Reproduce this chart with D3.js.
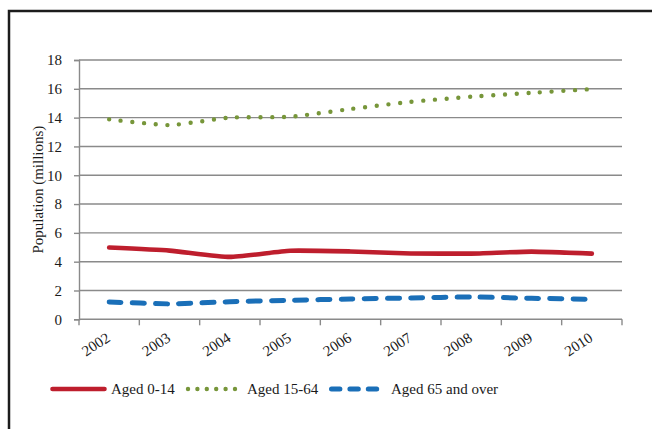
<!DOCTYPE html>
<html>
<head>
<meta charset="utf-8">
<script src="https://cdn.jsdelivr.net/npm/d3@7"></script>
<style>
  html, body { margin: 0; padding: 0; background: #fff; }
  svg { display: block; }
</style>
</head>
<body>
<svg id="chart" width="652" height="429"></svg>
<script>
// Population by age group, 2002-2010 (millions)
const years = ["2002", "2003", "2004", "2005", "2006", "2007", "2008", "2009", "2010"];
const aged0to14 = [4.98, 4.77, 4.33, 4.76, 4.71, 4.57, 4.56, 4.70, 4.56];
const aged15to64 = [13.88, 13.48, 14.0, 14.06, 14.6, 15.1, 15.45, 15.72, 15.98];
const aged65plus = [1.2, 1.07, 1.22, 1.32, 1.41, 1.48, 1.55, 1.46, 1.39];
const yTicks = [0, 2, 4, 6, 8, 10, 12, 14, 16, 18];
const seriesNames = ["Aged 0-14", "Aged 15-64", "Aged 65 and over"];

const FONT = "'Liberation Serif', Tinos, 'Times New Roman', 'DejaVu Serif', serif";

const svg = d3.select("#chart");
const margin = { left: 79, right: 30, top: 60, bottom: 109.7 };
const W = 652, H = 429;
const plotW = W - margin.left - margin.right;
const plotH = H - margin.top - margin.bottom;

// outer frame (left and top edges fall inside the canvas)
svg.append("path")
  .attr("d", `M9,${H + 5} L9,11 L${W + 5},11`)
  .attr("fill", "none")
  .attr("stroke", "#1c1c1c")
  .attr("stroke-width", 2.5);

const x = d3.scaleBand().domain(years).range([0, plotW]).padding(0);
const y = d3.scaleLinear().domain([0, 18]).range([plotH, 0]);

const g = svg.append("g").attr("transform", `translate(${margin.left},${margin.top})`);

const gridColor = "#8a8a8a";

// horizontal gridlines
g.append("g")
  .selectAll("line")
  .data(yTicks.filter(d => d > 0))
  .join("line")
  .attr("x1", 0).attr("x2", plotW)
  .attr("y1", d => y(d)).attr("y2", d => y(d))
  .attr("stroke", gridColor).attr("stroke-width", 1.4);

// y axis
const yAxis = g.append("g")
  .call(d3.axisLeft(y).tickValues(yTicks).tickSize(5).tickPadding(12).tickFormat(d3.format("d")));
yAxis.attr("font-family", FONT).attr("font-size", 15);
yAxis.select(".domain").attr("stroke", gridColor).attr("stroke-width", 1.4);
yAxis.selectAll(".tick line").attr("stroke", gridColor).attr("stroke-width", 1.4);
yAxis.selectAll(".tick text").attr("fill", "#1a1a1a");

// x axis: category tick marks on band boundaries
const xAxisG = g.append("g")
  .attr("transform", `translate(0,${plotH})`)
  .attr("font-family", FONT).attr("font-size", 15);
xAxisG.append("line")
  .attr("x1", 0).attr("x2", plotW)
  .attr("stroke", gridColor).attr("stroke-width", 1.4);
const bounds = years.map(d => x(d)).concat([plotW]);
xAxisG.selectAll("line.tk")
  .data(bounds)
  .join("line")
  .attr("class", "tk")
  .attr("x1", d => d).attr("x2", d => d)
  .attr("y1", 0).attr("y2", 6)
  .attr("stroke", gridColor).attr("stroke-width", 1.4);
xAxisG.selectAll("text")
  .data(years)
  .join("text")
  .attr("transform", d => `translate(${x(d) + x.bandwidth() / 2 + 2},21) rotate(-33)`)
  .attr("text-anchor", "end")
  .attr("fill", "#1a1a1a")
  .text(d => d);

// y axis title
svg.append("text")
  .attr("transform", `translate(43,${margin.top + plotH / 2}) rotate(-90)`)
  .attr("text-anchor", "middle")
  .attr("font-family", FONT).attr("font-size", 15)
  .attr("fill", "#1a1a1a")
  .text("Population (millions)");

// series lines
const cx = (d, i) => x(years[i]) + x.bandwidth() / 2;
const line = d3.line()
  .x((d, i) => cx(d, i))
  .y(d => y(d))
  .curve(d3.curveCardinal.tension(0.5));

const series = [
  { name: seriesNames[0], values: aged0to14, color: "#be1e2d", width: 4.6, dash: null, legendDash: null },
  { name: seriesNames[1], values: aged15to64, color: "#77963a", width: 4.4, dash: "0,11.7", legendDash: "0,9.4" },
  { name: seriesNames[2], values: aged65plus, color: "#1a6fb8", width: 5, dash: "12,11.2", legendDash: "8.4,10" }
];

g.selectAll("path.series")
  .data(series)
  .join("path")
  .attr("class", "series")
  .attr("d", d => line(d.values))
  .attr("fill", "none")
  .attr("stroke", d => d.color)
  .attr("stroke-width", d => d.width)
  .attr("stroke-linecap", "round")
  .attr("stroke-dasharray", d => d.dash);

// legend
const legendY = 389;
const legendItems = [
  { x0: 52.5, x1: 104.5, tx: 111 },
  { x0: 188, x1: 236, tx: 247 },
  { x0: 331.5, x1: 377, tx: 391 }
];
const lg = svg.append("g").attr("font-family", FONT).attr("font-size", 15);
series.forEach((s, i) => {
  const p = legendItems[i];
  lg.append("line")
    .attr("x1", p.x0).attr("x2", p.x1)
    .attr("y1", legendY).attr("y2", legendY)
    .attr("stroke", s.color)
    .attr("stroke-width", s.width)
    .attr("stroke-linecap", "round")
    .attr("stroke-dasharray", s.legendDash);
  lg.append("text")
    .attr("x", p.tx).attr("y", legendY + 5)
    .attr("fill", "#1a1a1a")
    .text(s.name);
});
</script>
</body>
</html>
